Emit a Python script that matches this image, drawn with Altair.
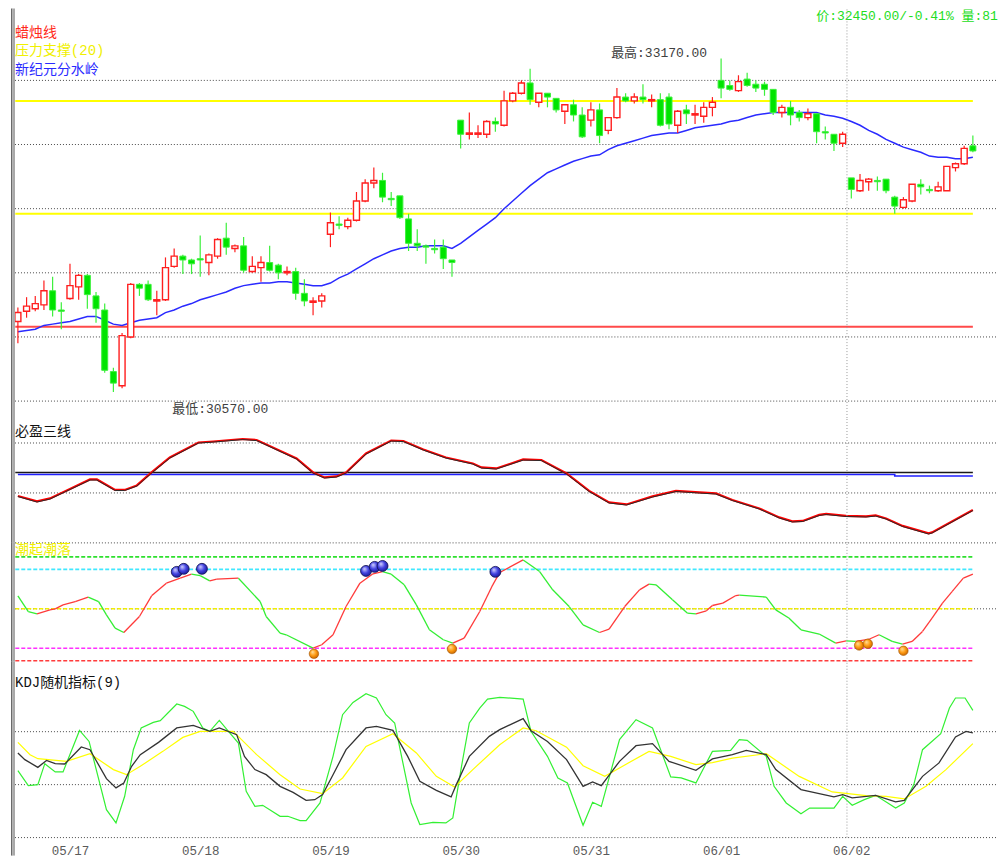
import altair as alt
import pandas as pd

# ---------------- data ----------------
opens = [31120, 31200, 31220, 31250, 31360, 31210, 31300, 31390, 31480, 31320,
         31210, 30730, 30620, 31000, 31410, 31410, 31280, 31290, 31550, 31630,
         31600, 31610, 31580, 31630, 31770, 31690, 31710, 31510, 31540, 31580,
         31560, 31500, 31510, 31340, 31270, 31280, 31800, 31880, 31860, 31910,
         32060, 32200, 32220, 32080, 32100, 31920, 31730, 31710, 31690, 31700,
         31600, 32690, 32580, 32580, 32580, 32680, 32650, 32840, 32900, 32980,
         32830, 32900, 32860, 32760, 32810, 32730, 32690, 32770, 32610, 32710,
         32870, 32840, 32870, 32840, 32850, 32870, 32650, 32770, 32730, 32720,
         32790, 33000, 32960, 32920, 33010, 32970, 32970, 32930, 32750, 32790,
         32750, 32710, 32740, 32600, 32580, 32510, 32240, 32140, 32210, 32220,
         32230, 32090, 32010, 32060, 32190, 32150, 32140, 32140, 32320, 32350,
         32490]
highs = [31230, 31310, 31320, 31440, 31470, 31270, 31570, 31490, 31490, 31350,
         31260, 30760, 31030, 31420, 31420, 31440, 31360, 31620, 31690, 31640,
         31610, 31790, 31650, 31770, 31890, 31720, 31780, 31630, 31630, 31710,
         31570, 31550, 31540, 31450, 31310, 31340, 31970, 31940, 31930, 32130,
         32230, 32320, 32280, 32130, 32100, 31960, 31840, 31720, 31760, 31760,
         31600, 32690, 32750, 32650, 32690, 32710, 32920, 32910, 33000, 33090,
         32900, 32900, 32860, 32810, 32850, 32790, 32830, 32820, 32710, 32940,
         32900, 32900, 32970, 32890, 32900, 32900, 32770, 32810, 32810, 32830,
         32870, 33170, 33000, 33040, 33060, 33000, 32990, 32930, 32810, 32840,
         32770, 32780, 32740, 32640, 32580, 32600, 32240, 32270, 32240, 32250,
         32230, 32100, 32090, 32190, 32230, 32180, 32210, 32330, 32360, 32490,
         32570]
lows = [30950, 31150, 31200, 31210, 31160, 31060, 31290, 31290, 31220, 31110,
        30720, 30570, 30600, 30990, 31320, 31280, 31170, 31280, 31540, 31490,
        31490, 31470, 31480, 31610, 31640, 31660, 31500, 31500, 31430, 31510,
        31450, 31480, 31290, 31240, 31170, 31230, 31700, 31840, 31840, 31900,
        32050, 32160, 32050, 32020, 31920, 31670, 31670, 31570, 31650, 31530,
        31470, 32470, 32540, 32550, 32550, 32600, 32640, 32830, 32890, 32810,
        32790, 32790, 32750, 32660, 32680, 32550, 32640, 32510, 32580, 32700,
        32830, 32820, 32820, 32790, 32640, 32620, 32590, 32660, 32660, 32670,
        32720, 32860, 32920, 32910, 32950, 32910, 32880, 32730, 32710, 32650,
        32680, 32690, 32510, 32540, 32450, 32480, 32080, 32130, 32140, 32140,
        32120, 31960, 32000, 32050, 32110, 32120, 32130, 32140, 32290, 32340,
        32440]
closes = [31190, 31240, 31260, 31360, 31210, 31200, 31400, 31480, 31330, 31220,
          30740, 30640, 31010, 31410, 31380, 31290, 31290, 31540, 31630, 31600,
          31570, 31600, 31640, 31760, 31700, 31710, 31520, 31550, 31580, 31520,
          31500, 31510, 31340, 31280, 31280, 31320, 31890, 31870, 31910, 32060,
          32200, 32220, 32090, 32070, 31930, 31730, 31710, 31700, 31680, 31610,
          31580, 32580, 32590, 32590, 32680, 32660, 32840, 32900, 32980, 32850,
          32900, 32870, 32770, 32810, 32730, 32560, 32770, 32570, 32710, 32870,
          32840, 32870, 32850, 32850, 32650, 32660, 32760, 32740, 32740, 32790,
          32830, 32940, 32930, 32990, 32960, 32940, 32930, 32750, 32790, 32730,
          32710, 32740, 32600, 32590, 32510, 32580, 32150, 32220, 32230, 32210,
          32140, 32020, 32070, 32190, 32170, 32140, 32170, 32330, 32350, 32470,
          32450]
# 新纪元分水岭 (blue line), one value per bar
watershed = [31040, 31050, 31060, 31090, 31100, 31110, 31120, 31140, 31160, 31160,
             31130, 31100, 31090, 31110, 31130, 31140, 31150, 31190, 31210, 31240,
             31260, 31290, 31310, 31330, 31350, 31380, 31400, 31410, 31420, 31420,
             31430, 31430, 31420, 31410, 31400, 31400, 31420, 31460, 31490, 31530,
             31570, 31610, 31640, 31670, 31690, 31700, 31700, 31710, 31710, 31710,
             31690, 31730, 31780, 31830, 31880, 31930, 32000, 32060, 32120, 32180,
             32230, 32280, 32310, 32340, 32370, 32390, 32410, 32420, 32460, 32490,
             32510, 32530, 32550, 32570, 32580, 32590, 32590, 32610, 32630, 32640,
             32650, 32660, 32680, 32690, 32710, 32730, 32740, 32750, 32750, 32750,
             32750, 32750, 32750, 32730, 32720, 32705, 32680, 32650, 32610, 32580,
             32540, 32510, 32480, 32460, 32440, 32410, 32400, 32400, 32390, 32390,
             32400]
resistance_levels = [32840, 31960]      # 压力支撑(20), yellow
support_level = 31080                   # red line
price_grid = [30500, 31000, 31500, 32000, 32500, 33000]
high_price, high_bar = 33170, 81
low_price, low_bar = 30570, 11
header_text = "价:32450.00/-0.41% 量:819"

# 必盈三线
p2_idx = [0, 2.2, 3.7, 6.0, 8.3, 9.1, 11.2, 12.3, 13.7, 15.4, 17.5, 20.8, 22.5, 25.9, 27.5,
          32.1, 34.0, 35.3, 36.7, 37.8, 40.1, 43.0, 44.4, 46.7, 49.3, 52.4, 53.4, 55.1, 58.2,
          60.3, 63.2, 65.8, 68.1, 70.1, 73.1, 75.8, 78.5, 80.4, 82.3, 85.4, 87.7, 89.2, 90.4,
          92.3, 93.1, 95.4, 97.7, 98.8, 100.0, 101.9, 104.9, 105.3, 110]
p2_val = [-6, -17, -11, 8, 27, 27, 6, 6, 15, 41, 71, 101, 103, 108, 106,
          69, 41, 31, 33, 41, 79, 105, 104, 87, 71, 59, 51, 49, 67,
          66, 39, 4, -19, -23, -7, 4, 1, -1, -14, -31, -49, -57, -56,
          -44, -42, -46, -47, -45, -51, -66, -81, -79, -34]
p2_black_level = 41
p2_blue_idx = [0, 101, 101, 110]
p2_blue_val = [37, 37, 34, 34]
p2_grid = [100, 0, -100]

# 潮起潮落
p3_idx = [0, 1.2, 2.2, 3.7, 4.3, 5.2, 6.6, 8.1, 9.3, 10.2, 11.2, 12.2, 14.0, 15.4, 17.1,
          18.7, 20.0, 21.0, 22.1, 22.9, 25.4, 27.9, 28.6, 30.2, 30.9, 34.0, 35.0, 36.3, 37.8,
          39.4, 40.9, 42.0, 43.0, 44.5, 45.9, 47.4, 49.0, 50.1, 51.4, 53.2, 54.7, 55.5, 58.2,
          60.1, 61.6, 63.5, 65.1, 67.0, 68.1, 69.9, 71.6, 72.7, 73.5, 75.4, 77.1, 78.1, 79.3,
          80.0, 81.2, 82.7, 83.1, 86.2, 87.3, 88.8, 90.2, 92.3, 94.2, 95.4, 96.5, 98.1, 99.2,
          100.7, 101.9, 103.0, 104.2, 105.3, 106.5, 107.6, 108.9, 110]
p3_val = [62.5, 47.4, 45.2, 49, 50, 53.8, 57, 61.3, 57, 44.2, 31.4, 27.2, 42.6, 62.5, 74.7,
          79.5, 83.4, 82, 76.9, 78.6, 79.5, 57, 42.6, 26.6, 25, 12.2, 15.4, 25, 52.2,
          74.7, 83.7, 85.9, 83.4, 73.1, 53.8, 29.8, 20.2, 17, 21.8, 47.4, 73.1, 85, 97.1,
          85.9, 68.3, 52.2, 34.6, 27.2, 30.5, 52.2, 68.3, 73.8, 73.1, 58.7, 45.9, 45.2, 48.1,
          53.2, 55.5, 62.8, 63.2, 61.3, 49, 41.1, 29.8, 25.7, 17, 19.2, 18.6, 20.9, 25,
          18.6, 16.1, 18.6, 28.2, 41.1, 55.5, 66.6, 79.5, 83.4]
p3_levels = [100, 88, 50, 12, 0]
p3_level_colors = ["#2ee02e", "#40e8ff", "#f4f000", "#ff30ff", "#ff3c3c"]
top_idx = [18.3, 19.1, 21.2, 40.1, 41.1, 42.0, 55.0]
top_val = [85.6, 88.5, 88.5, 86.5, 90.4, 91.3, 85.6]
bottom_idx = [34.1, 50.0, 96.9, 97.9, 102.0]
bottom_val = [6.7, 11.3, 14.7, 16.3, 9.6]

# KDJ(9)
k_idx = [0, 0.8, 2.3, 3.3, 4.3, 5.4, 7.3, 8.3, 10.2, 11.3, 12.2, 13.1, 14.1, 16.2, 18.3,
         20.2, 22.1, 23.2, 25.2, 26.1, 27.3, 28.6, 30.2, 31.7, 33.2, 34.2, 35.1, 36.3, 37.8,
         40.1, 41.3, 43.2, 44.9, 46.3, 48.2, 49.9, 50.5, 52.0, 54.3, 55.5, 58.2, 59.1, 61.0,
         63.2, 65.1, 66.2, 67.2, 69.3, 71.2, 73.1, 75.0, 78.1, 80.0, 82.3, 83.9, 86.2, 87.3,
         90.2, 94.0, 95.0, 96.1, 98.8, 101.1, 102.1, 104.2, 106.1, 108.0, 109.2, 110]
k_val = [79.9, 73.6, 66.3, 72.9, 69.8, 69.5, 85.6, 83, 55.7, 46.9, 51.6, 67.3, 78.3, 89.9, 103.5,
         105.9, 100.3, 103.5, 97.2, 76.7, 64.2, 59.4, 48.4, 42.7, 35.2, 35.8, 40.6, 59.4, 83,
         103.5, 105, 101.2, 76.7, 53.1, 44.6, 38.4, 50, 76.7, 95.6, 101.9, 112.3, 100.9, 90.8,
         73.6, 48.4, 52.5, 49.1, 72, 86.8, 88.7, 72, 63.5, 74.3, 78.3, 82.4, 78.3, 64.2,
         45.3, 38.4, 40.6, 37.5, 39.9, 33.7, 35.2, 57.8, 70.5, 95, 100.3, 98.8]
d_idx = [0, 1.4, 2.3, 5.6, 8.3, 11.0, 12.5, 14.1, 16.7, 19.0, 21.0, 24.8, 27.5, 30.2, 32.5,
         35.1, 37.4, 40.1, 43.2, 45.9, 48.2, 50.3, 52.4, 55.5, 58.2, 59.7, 63.2, 65.1, 67.6,
         69.3, 72.7, 75.2, 78.1, 80.0, 82.3, 86.2, 90.0, 93.8, 97.7, 100.0, 102.1, 104.6, 106.9, 110]
d_val = [89.9, 78.3, 74.5, 72, 79.2, 64.2, 59.4, 67.3, 81.4, 94.6, 100.3, 100.3, 78.3, 59.4, 45.9,
         41.5, 56.3, 86.1, 98.1, 79.9, 57.8, 47.8, 64.2, 87.7, 103.5, 100.9, 85.4, 67.9, 57.8,
         65.8, 81.4, 76.7, 68.9, 70.8, 75, 79.2, 57.8, 43.1, 39.6, 39, 36.5, 48.4, 64.2, 88.7]
j_idx = [0, 1.2, 2.3, 3.1, 4.3, 5.2, 7.1, 8.2, 10.2, 11.3, 12.3, 13.3, 14.2, 15.6, 16.4,
         18.3, 19.2, 20.2, 21.3, 22.1, 23.2, 24.4, 25.4, 26.3, 27.3, 28.2, 30.2, 31.1, 32.5,
         33.2, 34.8, 36.3, 37.4, 38.6, 40.1, 41.3, 42.4, 43.4, 45.3, 46.3, 47.8, 49.3, 50.1,
         51.1, 52.0, 53.2, 54.1, 55.5, 58.2, 59.1, 61.0, 62.2, 63.3, 65.1, 66.2, 67.2, 69.3,
         71.2, 73.1, 75.2, 76.4, 78.1, 80.0, 82.1, 83.1, 84.0, 86.2, 87.1, 88.5, 90.2, 91.2,
         94.0, 95.0, 96.1, 97.5, 98.8, 100.2, 101.1, 102.1, 103.2, 104.2, 106.3, 107.3, 108.0,
         109.1, 110]
j_val = [63.2, 49.1, 50, 69.8, 62, 62, 101.2, 90.8, 26.4, 13.9, 39, 83, 103.5, 108.8, 110.4,
         126.1, 123.9, 119.2, 103.5, 100.3, 110.7, 98.8, 89.3, 43.7, 29.5, 30.5, 20.1, 20.1, 16,
         16, 32.7, 76.7, 116, 127.6, 135.8, 131.8, 116, 108.2, 32.7, 12.3, 14.4, 13.9, 18.6,
         67.3, 108.2, 122.2, 130.8, 132.4, 130.8, 100.3, 76.7, 56.3, 51.6, 11.6, 33.3, 29.5, 92.5,
         111.3, 103.5, 57.3, 56.3, 51.6, 81.4, 82.4, 92.5, 91.8, 76.7, 48.4, 32.7, 22.6, 27.9,
         27.9, 39, 30.5, 35.8, 39.9, 32.7, 27.9, 32.7, 50, 83, 98.1, 122.4, 131.8,
         131.8, 120.1]
kdj_grid = [100, 50, 0]

day_ticks = [6, 21, 36, 51, 66, 81, 96]
day_labels = ["05/17", "05/18", "05/19", "05/30", "05/31", "06/01", "06/02"]
cursor_bar = 95.5
line_start, line_end = -0.3, 110

# ---------------- styling ----------------
W = 987
H1, H2, H3, H4 = 410, 125, 119, 176
FONT = "Liberation Mono, Noto Sans CJK SC"
RED = "#ff1e1e"
GREEN = "#00e400"
GREEN_EDGE = "#3cf03c"
xsc = alt.Scale(domain=[-0.794, 112.78], nice=False, zero=False, padding=0)

expr = "''"
for t, lab in reversed(list(zip(day_ticks, day_labels))):
    expr = f"datum.value == {t} ? '{lab}' : ({expr})"
x_axis4 = alt.Axis(values=day_ticks, labelExpr=expr, ticks=False, tickSize=0, domain=False,
                   grid=False, title=None, labelFont=FONT, labelFontSize=12.5,
                   labelColor="#5a5a5a", labelPadding=7, labelOverlap=False)


def xq(field, axis=None):
    return alt.X(f"{field}:Q", scale=xsc, axis=axis)


def frame_layer(h):
    dark = alt.Chart(pd.DataFrame({"a": [0]})).mark_rect(color="#6a6a6a").encode(
        x=alt.value(0), x2=alt.value(1.4), y=alt.value(0), y2=alt.value(h))
    light = alt.Chart(pd.DataFrame({"a": [0]})).mark_rect(color="#a9a9a9").encode(
        x=alt.value(1.4), x2=alt.value(4), y=alt.value(0), y2=alt.value(h))
    return [dark, light]


def cursor_layer(h, axis=None):
    return alt.Chart(pd.DataFrame({"idx": [cursor_bar]})).mark_rule(
        color="#9a9a9a", strokeDash=[1, 2], strokeWidth=1).encode(
        x=xq("idx", axis), y=alt.value(1), y2=alt.value(h))


def grid_layer(values, yenc):
    return alt.Chart(pd.DataFrame({"v": values})).mark_rule(
        color="#4a4a4a", strokeDash=[1, 2], strokeWidth=1).encode(
        y=yenc("v"), x=alt.value(4), x2=alt.value(W - 1))


def label(text, color, x, y, size=14):
    return alt.Chart(pd.DataFrame({"a": [0]})).mark_text(
        text=text, color=color, font=FONT, fontSize=size, align="left", baseline="middle"
    ).encode(x=alt.value(x), y=alt.value(y))


# ---------------- panel 1: candles ----------------
n = len(opens)
bars = list(range(n))
candles = pd.DataFrame({"idx": bars, "open": opens, "high": highs, "low": lows, "close": closes})
up_df = candles[candles["close"] >= candles["open"]]
dn_df = candles[candles["close"] < candles["open"]]

ys1 = alt.Scale(domain=[30368, 33561], nice=False, zero=False, padding=0)


def y1(field):
    return alt.Y(f"{field}:Q", scale=ys1, axis=None)


lvl_df = pd.DataFrame({
    "start": [line_start] * 3, "end": [line_end] * 3,
    "v": resistance_levels + [support_level],
    "c": ["#ffff00", "#ffff00", "#ff4a4a"],
})
levels1 = alt.Chart(lvl_df).mark_rule(strokeWidth=2).encode(
    x=xq("start"), x2="end", y=y1("v"), color=alt.Color("c:N", scale=None))
ma1 = alt.Chart(pd.DataFrame({"idx": bars, "v": watershed})).mark_line(
    color="#2a2aff", strokeWidth=1.5).encode(x=xq("idx"), y=y1("v"))
wicks = alt.Chart(candles).mark_rule(strokeWidth=1.2).encode(
    x=xq("idx"), y=y1("low"), y2="high",
    color=alt.condition("datum.close >= datum.open", alt.value(RED), alt.value(GREEN_EDGE)))
up_bodies = alt.Chart(up_df).mark_bar(size=6, fill="white", stroke=RED, strokeWidth=1.4).encode(
    x=xq("idx"), y=y1("open"), y2="close")
dn_bodies = alt.Chart(dn_df).mark_bar(size=6, fill=GREEN, stroke=GREEN_EDGE, strokeWidth=1).encode(
    x=xq("idx"), y=y1("open"), y2="close")
hi_txt = alt.Chart(pd.DataFrame({"idx": [high_bar], "v": [high_price],
                                 "t": [f"最高:{high_price:.2f}"]})).mark_text(
    align="right", baseline="middle", dx=-14, dy=-6, font=FONT, fontSize=13, color="#404040"
).encode(x=xq("idx"), y=y1("v"), text="t:N")
lo_txt = alt.Chart(pd.DataFrame({"idx": [low_bar], "v": [low_price],
                                 "t": [f"最低:{low_price:.2f}"]})).mark_text(
    align="left", baseline="middle", dx=59, dy=17, font=FONT, fontSize=13, color="#404040"
).encode(x=xq("idx"), y=y1("v"), text="t:N")
header = alt.Chart(pd.DataFrame({"a": [0]})).mark_text(
    text=header_text, color="#22dd22", font=FONT, fontSize=13, align="left",
    baseline="middle", limit=188, ellipsis="\u200b"
).encode(x=alt.value(806), y=alt.value(8))

panel1 = alt.layer(
    grid_layer(price_grid, y1), levels1, ma1, wicks, up_bodies, dn_bodies, hi_txt, lo_txt, header,
    label("蜡烛线", "#ff2a1a", 4, 25), label("压力支撑(20)", "#f0f000", 4, 43),
    label("新纪元分水岭", "#2a2aff", 4, 62), cursor_layer(H1), *frame_layer(H1)
).properties(width=W, height=H1)

# ---------------- panel 2: 必盈三线 ----------------
ys2 = alt.Scale(domain=[-100, 150], nice=False, zero=False, padding=0)


def y2(field):
    return alt.Y(f"{field}:Q", scale=ys2, axis=None)


black_flat = alt.Chart(pd.DataFrame({"start": [line_start], "end": [line_end], "v": [p2_black_level]})
                       ).mark_rule(color="#1a1a1a", strokeWidth=1.5).encode(
    x=xq("start"), x2="end", y=y2("v"))
blue_flat = alt.Chart(pd.DataFrame({"idx": p2_blue_idx, "v": p2_blue_val})).mark_line(
    color="#2020ff", strokeWidth=1.6).encode(x=xq("idx"), y=y2("v"))
p2_df = pd.DataFrame({"idx": p2_idx, "v": p2_val})
p2_red = alt.Chart(p2_df).mark_line(color="#ff0000", strokeWidth=2.2).encode(x=xq("idx"), y=y2("v"))
p2_black = alt.Chart(p2_df).mark_line(color="#2a2a2a", strokeWidth=1, yOffset=0.6).encode(
    x=xq("idx"), y=y2("v"))
panel2 = alt.layer(
    grid_layer(p2_grid, y2), black_flat, blue_flat, p2_red, p2_black,
    label("必盈三线", "#111111", 4, 14), cursor_layer(H2), *frame_layer(H2)
).properties(width=W, height=H2)

# ---------------- panel 3: 潮起潮落 ----------------
ys3 = alt.Scale(domain=[-1, 113.5], nice=False, zero=False, padding=0)


def y3(field):
    return alt.Y(f"{field}:Q", scale=ys3, axis=None)


lv3 = pd.DataFrame({"start": [line_start] * len(p3_levels), "end": [line_end] * len(p3_levels),
                    "v": p3_levels, "c": p3_level_colors})
levels3 = alt.Chart(lv3).mark_rule(strokeWidth=1.6, strokeDash=[4, 2]).encode(
    x=xq("start"), x2="end", y=y3("v"), color=alt.Color("c:N", scale=None))
seg = pd.DataFrame({
    "x": p3_idx[:-1], "x2": p3_idx[1:], "y": p3_val[:-1], "y2": p3_val[1:],
})
seg["c"] = ["#ff3a3a" if b > a else "#33ee33" for a, b in zip(seg["y"], seg["y2"])]
wave = alt.Chart(seg).mark_rule(strokeWidth=1.3).encode(
    x=xq("x"), x2="x2", y=y3("y"), y2="y2", color=alt.Color("c:N", scale=None))
blue_ball = alt.RadialGradient(
    gradient="radial", x1=0.35, y1=0.3, r1=0.0, x2=0.45, y2=0.45, r2=0.6,
    stops=[alt.GradientStop(color="#d8d8ff", offset=0), alt.GradientStop(color="#4040e0", offset=0.55),
           alt.GradientStop(color="#1a1a90", offset=1)])
orange_ball = alt.RadialGradient(
    gradient="radial", x1=0.35, y1=0.3, r1=0.0, x2=0.45, y2=0.45, r2=0.6,
    stops=[alt.GradientStop(color="#ffe0a0", offset=0), alt.GradientStop(color="#ff9a10", offset=0.55),
           alt.GradientStop(color="#c06000", offset=1)])
tops = alt.Chart(pd.DataFrame({"idx": top_idx, "v": top_val})).mark_circle(
    size=120, opacity=1, fill=blue_ball, stroke="#101050", strokeWidth=0.8).encode(
    x=xq("idx"), y=y3("v"))
bottoms = alt.Chart(pd.DataFrame({"idx": bottom_idx, "v": bottom_val})).mark_circle(
    size=90, opacity=1, fill=orange_ball, stroke="#a05000", strokeWidth=0.6).encode(
    x=xq("idx"), y=y3("v"))
panel3 = alt.layer(
    grid_layer([50], y3), levels3, wave, tops, bottoms, label("潮起潮落", "#f0f000", 4, 7),
    cursor_layer(H3), *frame_layer(H3)
).properties(width=W, height=H3)

# ---------------- panel 4: KDJ ----------------
ys4 = alt.Scale(domain=[0, 166], nice=False, zero=False, padding=0)


def y4(field):
    return alt.Y(f"{field}:Q", scale=ys4, axis=None)


j_line = alt.Chart(pd.DataFrame({"idx": j_idx, "v": j_val})).mark_line(
    color="#33f033", strokeWidth=1.2).encode(x=xq("idx", x_axis4), y=y4("v"))
d_line = alt.Chart(pd.DataFrame({"idx": d_idx, "v": d_val})).mark_line(
    color="#ffff00", strokeWidth=1.2).encode(x=xq("idx", x_axis4), y=y4("v"))
k_line = alt.Chart(pd.DataFrame({"idx": k_idx, "v": k_val})).mark_line(
    color="#333333", strokeWidth=1.3).encode(x=xq("idx", x_axis4), y=y4("v"))
panel4 = alt.layer(
    grid_layer(kdj_grid, y4), j_line, d_line, k_line, label("KDJ随机指标(9)", "#111111", 4, 21),
    cursor_layer(H4, x_axis4), *frame_layer(H4 + 18)
).properties(width=W, height=H4)

chart = alt.vconcat(panel1, panel2, panel3, panel4, spacing=0, bounds="flush").resolve_scale(
    y="independent"
).properties(
    padding={"left": 3, "top": 0, "right": 0, "bottom": 0}
).configure(background="white").configure_view(strokeWidth=0)

chart.save("out.html", embed_options={"renderer": "svg", "actions": False})
